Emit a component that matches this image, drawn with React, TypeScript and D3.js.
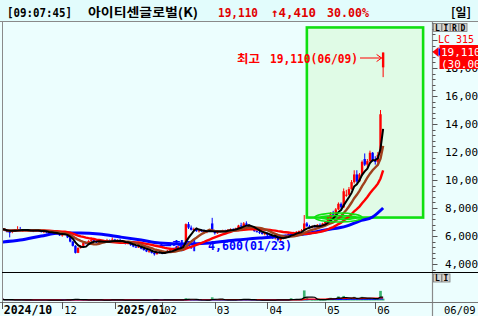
import React, { useMemo } from "react";
import * as d3 from "d3";

// ---------- data ----------
const START = "2024-10-30";
const END = "2025-06-09";
const HOLIDAYS = [
  "2024-12-25", "2024-12-31", "2025-01-01", "2025-01-27", "2025-01-28", "2025-01-29",
  "2025-01-30", "2025-03-03", "2025-05-01", "2025-05-05", "2025-05-06", "2025-06-03", "2025-06-06",
];

const OPEN = [
  6600, 6500, 6420, 6300, 6280, 6400, 6450, 6500, 6400, 6420, 6380, 6430, 6380, 6350, 6420, 6360, 6300, 6350, 6250, 6200, 6250, 6150, 6200,
  6050, 6100, 6150, 5900, 5600, 5300, 4800, 5150, 5300, 5500, 5450, 5650, 5700, 5650, 5550, 5600, 5550, 5600, 5700, 5550,
  5750, 5650, 5700, 5600, 5500, 5450, 5500, 5350, 5250, 5200, 5250, 5100, 5000, 4900, 4950, 4800, 4700, 4850,
  4800, 4750, 4850, 4950, 5050, 5000, 5150, 5250, 5200, 5500, 6850, 6600, 6450, 6500, 6350, 6400, 6350, 6300, 6350, 6900,
  6350, 6200, 6300, 6350, 6400, 6350, 6450, 6500, 6450, 6550, 6750, 6700, 6900, 6800, 6650, 6500, 6350, 6300, 6250, 6150,
  6200, 6050, 5950, 5850, 5950, 5700, 5900, 5850, 6050, 6150, 6200, 6150, 6300, 6350, 6400, 6900, 6700, 6600, 6700, 6650, 6800, 6750,
  6900, 7000, 7300, 7550, 7500, 7900, 8300, 8050, 8900, 8950, 9350, 9850, 10400, 9900, 10400, 11500, 11100, 11350, 11950,
  11400, 11300, 12000, 18050,
];
const HIGH = [
  6700, 6550, 6500, 6350, 6450, 6500, 6700, 6650, 6450, 6480, 6450, 6500, 6420, 6450, 6460, 6400, 6380, 6380, 6300, 6280, 6300, 6250, 6230,
  6150, 6200, 6150, 5950, 5650, 5350, 5200, 5350, 5550, 5600, 5700, 5900, 5850, 5700, 5650, 5700, 5650, 5800, 5750, 5900,
  5800, 5750, 5800, 5650, 5600, 5550, 5550, 5400, 5300, 5300, 5280, 5150, 5050, 4980, 4980, 4850, 4900, 4950,
  4850, 4900, 5000, 5100, 5150, 5200, 5300, 5350, 5500, 6900, 7000, 6750, 6600, 6550, 6450, 6500, 6450, 6400, 6450, 7300,
  6400, 6350, 6400, 6450, 6450, 6500, 6550, 6550, 6600, 6800, 6950, 7000, 7050, 6850, 6700, 6550, 6450, 6400, 6300, 6250,
  6250, 6100, 6000, 6000, 5950, 5950, 6000, 6100, 6200, 6250, 6300, 6350, 6400, 6500, 7500, 7000, 6800, 6750, 6800, 6850, 6900, 6950,
  7050, 7400, 7700, 7800, 8000, 8400, 8400, 9400, 9300, 9500, 10000, 10700, 10700, 10500, 11400, 11900, 11500, 12100, 12000,
  11700, 12000, 15000, 19110,
];
const LOW = [
  6450, 6350, 6250, 5900, 6200, 6300, 6400, 6350, 6300, 6350, 6300, 6350, 6280, 6300, 6330, 6250, 6200, 6200, 6100, 6150, 6100, 6100, 6000,
  5950, 6050, 5850, 5550, 5250, 4750, 4780, 5100, 5250, 5400, 5400, 5550, 5600, 5500, 5450, 5500, 5500, 5550, 5500, 5500,
  5600, 5600, 5550, 5450, 5400, 5400, 5300, 5200, 5150, 5150, 5050, 4950, 4850, 4800, 4750, 4600, 4680, 4750,
  4700, 4720, 4800, 4900, 4950, 4980, 5100, 5150, 5180, 5450, 6500, 6400, 6300, 6300, 6250, 6300, 6250, 6200, 6300, 6300,
  6100, 6150, 6250, 6300, 6300, 6300, 6400, 6400, 6400, 6500, 6650, 6650, 6750, 6600, 6450, 6300, 6250, 6150, 6100, 6050,
  6000, 5900, 5800, 5750, 5600, 5650, 5800, 5800, 6000, 6050, 6100, 6100, 6250, 6300, 6350, 6650, 6550, 6550, 6600, 6600, 6700, 6700,
  6800, 6950, 7200, 7400, 7450, 7850, 7950, 8000, 8800, 8900, 9300, 9750, 9800, 9850, 10300, 11000, 10900, 11250, 11300,
  11100, 11200, 11900, 17350,
];
const CLOSE = [
  6500, 6420, 6300, 6280, 6400, 6450, 6500, 6400, 6420, 6380, 6430, 6380, 6350, 6420, 6360, 6300, 6350, 6250, 6200, 6250, 6150, 6200, 6050,
  6100, 6150, 5900, 5600, 5300, 4800, 5150, 5300, 5500, 5450, 5650, 5700, 5650, 5550, 5600, 5550, 5600, 5700, 5550, 5750,
  5650, 5700, 5600, 5500, 5450, 5500, 5350, 5250, 5200, 5250, 5100, 5000, 4900, 4950, 4800, 4700, 4850, 4800,
  4750, 4850, 4950, 5050, 5000, 5150, 5250, 5200, 5450, 6850, 6600, 6450, 6500, 6350, 6400, 6350, 6300, 6350, 6400, 6350,
  6200, 6300, 6350, 6400, 6350, 6450, 6500, 6450, 6550, 6750, 6700, 6900, 6800, 6650, 6500, 6350, 6300, 6250, 6150, 6200,
  6050, 5950, 5850, 5950, 5700, 5900, 5850, 6050, 6150, 6200, 6150, 6300, 6350, 6400, 6900, 6700, 6600, 6700, 6650, 6800, 6750, 6900,
  7000, 7300, 7550, 7500, 7900, 8300, 8050, 9200, 8950, 9350, 9850, 10400, 9900, 10400, 11300, 11100, 11350, 11950, 11400,
  11300, 11800, 14700, 19110,
];
const VOLUME = [
  1200, 900, 800, 700, 800, 600, 700, 900, 600, 500, 600, 500, 500, 600, 500, 500, 600, 500, 400, 500, 500, 400, 600,
  500, 600, 1200, 1000, 1300, 1500, 900, 800, 700, 600, 700, 800, 600, 500, 500, 500, 400, 600, 500, 1500,
  600, 500, 500, 500, 400, 400, 500, 600, 500, 400, 500, 500, 600, 500, 700, 600, 500, 500,
  400, 1500, 600, 700, 500, 600, 700, 600, 900, 2500, 1800, 900, 700, 600, 500, 500, 400, 500, 600, 3500,
  1500, 800, 600, 600, 500, 600, 700, 600, 800, 1500, 1300, 1600, 900, 700, 600, 500, 500, 400, 400, 400,
  400, 500, 600, 500, 900, 500, 500, 700, 800, 2500, 900, 900, 1200, 1500, 11000, 3500, 1500, 1000, 900, 800, 900, 1000,
  1200, 2500, 3000, 1500, 2500, 4500, 1800, 5000, 1500, 2000, 2500, 4000, 2000, 2500, 4000, 2200, 1800, 2500, 1800,
  1500, 2500, 10500, 2000,
];
const MA60_AT = [0, 7, 15, 22, 30, 37, 45, 53, 60, 70, 79, 89, 98, 108, 115, 123, 131, 136, 141, 145];
const MA60_VALUE = [5570, 5710, 6000, 6210, 6210, 6140, 5930, 5710, 5500, 5430, 5500, 5710, 5860, 6000, 6140, 6430, 6710, 7070, 7360, 8000];
const PRICE_LABELS = [4000, 6000, 8000, 10000, 12000, 14000, 16000, 18000];

const TITLE_TIME = "[09:07:45]";
const TITLE_NAME = "아이티센글로벌(K)";
const LAST_PRICE = 19110;
const CHANGE = 4410;
const CHANGE_PCT = 30.0;
const HIGH_LABEL = { value: 19110, date: "06/09" };
const LOW_LABEL = { value: 4600, date: "01/23" };
const BOX = { from: 116, to: 160.2, top: 20900, bottom: 7320 };
const ELLIPSE = { from: 119, to: 137, lo: 7000, hi: 7640 };

// ---------- helpers ----------
const fmt = d3.format(",");
const MONO = "'DejaVu Sans Mono', 'Liberation Mono', monospace";
const KR = "'Noto Sans CJK KR', 'DejaVu Sans', sans-serif";

function movingAvg(arr: number[], n: number) {
  return arr.map((_, i) => d3.mean(arr.slice(Math.max(0, i - n + 1), i + 1)) as number);
}

function tradingDays() {
  const hol = new Set(HOLIDAYS);
  const f = d3.utcFormat("%Y-%m-%d");
  return d3
    .utcDay.range(new Date(START + "T00:00:00Z"), d3.utcDay.offset(new Date(END + "T00:00:00Z"), 1))
    .filter((d) => d.getUTCDay() !== 0 && d.getUTCDay() !== 6 && !hol.has(f(d)));
}

const W = 478;
const H = 316;

export default function App() {
  const dates = useMemo(tradingDays, []);
  const x = d3.scaleLinear().domain([0, 164]).range([1.8, 433.1]);
  const y = d3.scaleLinear().domain([3430, 21290]).range([272, 22]);
  const yv = d3.scaleLinear().domain([0, 30000]).range([300.5, 273]);

  const ma5 = movingAvg(CLOSE, 5);
  const ma10 = movingAvg(CLOSE, 10);
  const ma20 = movingAvg(CLOSE, 20);
  const vma5 = movingAvg(VOLUME, 5);
  const vma20 = movingAvg(VOLUME, 20);
  const vma60 = movingAvg(VOLUME, 60);

  const line = d3.line<number>().x((_, i) => x(i)).y((v) => y(v));
  const vline = d3.line<number>().x((_, i) => x(i)).y((v) => yv(v));
  const ma60Line = d3
    .line<number>()
    .x((_, k) => x(MA60_AT[k]))
    .y((v) => y(v))
    .curve(d3.curveMonotoneX);

  // month ticks
  const ticks: { i: number; label: string; bold: boolean }[] = [];
  let prevEnd = -Infinity;
  dates.forEach((d, i) => {
    if (i === 0 || d.getUTCMonth() !== dates[i - 1].getUTCMonth()) {
      const full = i === 0 || d.getUTCMonth() === 0;
      const label = full ? d3.utcFormat("%Y/%m")(d) : d3.utcFormat("%m")(d);
      const px = x(i);
      if (px >= prevEnd) {
        ticks.push({ i, label, bold: full });
        prevEnd = px + label.length * 6.6;
      }
    }
  });

  const minorTicks = d3.range(3600, 21201, 400);
  const lastIdx = CLOSE.length - 1;
  const hiIdx = CLOSE.length - 1;
  const loIdx = LOW.indexOf(LOW_LABEL.value);
  const loY = y(LOW_LABEL.value) - 6;

  const btn = (bx: number, by: number, ch: string, key: string) => (
    <g key={key}>
      <rect x={bx} y={by} width={8} height={8} fill="#d6d3ce" stroke="#7b7b7b" strokeWidth={0.8} />
      <text x={bx + 4} y={by + 7} fontSize={8} fontWeight="bold" textAnchor="middle" fontFamily={MONO} fill="#000">
        {ch}
      </text>
    </g>
  );

  return (
    <svg width={W} height={H} style={{ position: "absolute", left: 0, top: 0, display: "block" }}>
      <defs>
        <clipPath id="pricePanel">
          <rect x={3} y={22} width={429} height={250} />
        </clipPath>
        <clipPath id="volPanel">
          <rect x={3} y={273} width={429} height={29} />
        </clipPath>
      </defs>
      {/* backgrounds */}
      <rect x={0} y={0} width={W} height={H} fill="#ecfefe" />
      <rect x={0} y={0} width={W} height={21.5} fill="#e2fcfc" />
      <line x1={0} x2={W} y1={21.5} y2={21.5} stroke="#8a8a8a" />

      {/* header */}
      <text x={7} y={17} fontFamily={MONO} fontWeight="bold" fontSize={12} textLength={65} lengthAdjust="spacingAndGlyphs" fill="#000">
        {TITLE_TIME}
      </text>
      <text x={88} y={17} fontFamily={KR} fontWeight="bold" fontSize={12.5} textLength={110} lengthAdjust="spacingAndGlyphs" fill="#000">
        {TITLE_NAME}
      </text>
      <text x={218} y={17} fontFamily={MONO} fontWeight="bold" fontSize={12} textLength={40} lengthAdjust="spacingAndGlyphs" fill="#e00000">
        {fmt(LAST_PRICE)}
      </text>
      <text x={271} y={17} fontFamily={MONO} fontWeight="bold" fontSize={12} textLength={45} lengthAdjust="spacingAndGlyphs" fill="#e00000">
        {"↑" + fmt(CHANGE)}
      </text>
      <text x={327} y={17} fontFamily={MONO} fontWeight="bold" fontSize={12} textLength={42} lengthAdjust="spacingAndGlyphs" fill="#e00000">
        {CHANGE_PCT.toFixed(2) + "%"}
      </text>
      <text x={451} y={17} fontFamily={KR} fontWeight="bold" fontSize={12} textLength={20} lengthAdjust="spacingAndGlyphs" fill="#000">
        [일]
      </text>

      {/* frame */}
      <line x1={2.5} x2={2.5} y1={22} y2={302} stroke="#8a8a8a" strokeWidth={1} />
      <line x1={432.5} x2={432.5} y1={22} y2={H} stroke="#8a8a8a" strokeWidth={1.2} />
      <line x1={2} x2={W} y1={272.5} y2={272.5} stroke="#000" strokeWidth={1} />
      <line x1={0} x2={W} y1={302.5} y2={302.5} stroke="#777" strokeWidth={1} />

      {/* price panel */}
      <g clipPath="url(#pricePanel)">
        <rect
          x={x(BOX.from)}
          y={y(BOX.top)}
          width={x(BOX.to) - x(BOX.from)}
          height={y(BOX.bottom) - y(BOX.top)}
          fill="#e0fbe6"
          stroke="#10e010"
          strokeWidth={2.6}
        />
        <text x={x(loIdx) + 4} y={loY} fontFamily={KR} fontWeight="bold" fontSize={11.5} fill="#0000ff" textLength={38} lengthAdjust="spacingAndGlyphs">
          ←최저
        </text>
        <text x={208} y={loY} fontFamily={MONO} fontWeight="bold" fontSize={11.5} fill="#0000ff" textLength={84} lengthAdjust="spacingAndGlyphs">
          {fmt(LOW_LABEL.value) + "(" + LOW_LABEL.date + ")"}
        </text>
        {CLOSE.map((c, i) => {
          const o = OPEN[i];
          const up = c >= o;
          const col = up ? "#ff0000" : "#0000ff";
          const top = y(Math.max(o, c));
          const bot = y(Math.min(o, c));
          return (
            <g key={i}>
              <line x1={x(i)} x2={x(i)} y1={y(HIGH[i])} y2={y(LOW[i])} stroke={col} strokeWidth={1} />
              <rect x={x(i) - 1.2} y={top} width={2.4} height={Math.max(1, bot - top)} fill={col} />
            </g>
          );
        })}
        <path d={ma60Line(MA60_VALUE) || ""} fill="none" stroke="#0000ff" strokeWidth={3} />
        <path d={line(ma20) || ""} fill="none" stroke="#ff0000" strokeWidth={2.4} />
        <path d={line(ma10) || ""} fill="none" stroke="#a0401c" strokeWidth={2.4} />
        <path d={line(ma5) || ""} fill="none" stroke="#000" strokeWidth={2} />
        <ellipse
          cx={(x(ELLIPSE.from) + x(ELLIPSE.to)) / 2}
          cy={(y(ELLIPSE.lo) + y(ELLIPSE.hi)) / 2}
          rx={(x(ELLIPSE.to) - x(ELLIPSE.from)) / 2}
          ry={(y(ELLIPSE.lo) - y(ELLIPSE.hi)) / 2}
          fill="none"
          stroke="#10e010"
          strokeWidth={1.6}
        />
        <ellipse
          cx={(x(ELLIPSE.from) + x(ELLIPSE.to)) / 2}
          cy={(y(ELLIPSE.lo) + y(ELLIPSE.hi)) / 2}
          rx={((x(ELLIPSE.to) - x(ELLIPSE.from)) / 2) * 0.76}
          ry={((y(ELLIPSE.lo) - y(ELLIPSE.hi)) / 2) * 0.45}
          fill="none"
          stroke="#10e010"
          strokeWidth={1.6}
        />
        {/* highest label */}
        <text x={237} y={y(HIGH_LABEL.value) + 10} fontFamily={KR} fontWeight="bold" fontSize={11.5} fill="#ff0000" textLength={23} lengthAdjust="spacingAndGlyphs">
          최고
        </text>
        <text x={270} y={y(HIGH_LABEL.value) + 10} fontFamily={MONO} fontWeight="bold" fontSize={11.5} fill="#ff0000" textLength={88} lengthAdjust="spacingAndGlyphs">
          {fmt(HIGH_LABEL.value) + "(" + HIGH_LABEL.date + ")"}
        </text>
        <line x1={360} x2={x(hiIdx) - 1.5} y1={y(HIGH_LABEL.value) + 5.5} y2={y(HIGH_LABEL.value) + 5.5} stroke="#ff0000" strokeWidth={1} />
        <path
          d={`M${x(hiIdx) - 1.5},${y(HIGH_LABEL.value) + 5.5} l-5,-3.5 M${x(hiIdx) - 1.5},${y(HIGH_LABEL.value) + 5.5} l-5,3.5`}
          stroke="#ff0000"
          strokeWidth={1}
          fill="none"
        />
      </g>

      {/* volume panel */}
      <g clipPath="url(#volPanel)">
        {VOLUME.map((v, i) => (
          <rect key={i} x={x(i) - 1.3} y={Math.min(yv(v), 299.5)} width={2.63} height={Math.max(1.2, 300.5 - yv(v))} fill="#3cb371" />
        ))}
        <path d={vline(vma60) || ""} fill="none" stroke="#0000ff" strokeWidth={1.2} />
        <path d={vline(vma20) || ""} fill="none" stroke="#ff0000" strokeWidth={1.2} />
        <path d={vline(vma5) || ""} fill="none" stroke="#000" strokeWidth={1.2} />
      </g>

      {/* right price axis */}
      {minorTicks.map((v) => (
        <line key={v} x1={432.5} x2={v % 2000 === 0 ? 437.5 : 435.5} y1={Math.round(y(v)) + 0.5} y2={Math.round(y(v)) + 0.5} stroke="#555" />
      ))}
      {PRICE_LABELS.map((v) => (
        <text key={v} x={445} y={y(v) + 4} fontFamily={MONO} fontSize={11} fill="#000">
          {fmt(v)}
        </text>
      ))}
      {["L", "I", "R", "D"].map((c, k) => btn(433.5 + k * 8.5, 23.5, c, "b" + k))}
      {["L", "I"].map((c, k) => btn(433.5 + k * 8.5, 274, c, "v" + k))}
      <text x={438} y={43} fontFamily={MONO} fontSize={10} fill="#ff0000">
        LC 315
      </text>
      <rect x={439.5} y={y(LAST_PRICE) - 7.5} width={40} height={24} fill="#ff0000" />
      <path d={`M432.5,${y(LAST_PRICE) - 0.5} L438.5,${y(LAST_PRICE) - 5.5} L438.5,${y(LAST_PRICE) + 4.5} Z`} fill="#ff0000" />
      <rect x={438.5} y={y(LAST_PRICE) - 4} width={1.6} height={7} fill="#0000ff" />
      <text x={441} y={y(LAST_PRICE) + 3.5} fontFamily={MONO} fontSize={11} fill="#fff">
        {fmt(LAST_PRICE)}
      </text>
      <text x={441} y={y(LAST_PRICE) + 15} fontFamily={MONO} fontSize={11} fill="#fff">
        {"(" + CHANGE_PCT.toFixed(2) + "%)"}
      </text>

      {/* date axis */}
      {ticks.map((t) => (
        <g key={t.i}>
          <line x1={Math.round(x(t.i)) + 0.5} x2={Math.round(x(t.i)) + 0.5} y1={302} y2={309} stroke="#555" />
          <text
            x={x(t.i) + 2}
            y={314}
            fontFamily={MONO}
            fontSize={t.bold ? 11.5 : 10.5}
            fontWeight={t.bold ? "bold" : "normal"}
            fill="#000"
          >
            {t.label}
          </text>
        </g>
      ))}
      <text x={444} y={314} fontFamily={MONO} fontSize={10.5} fill="#000">
        {d3.utcFormat("%m/%d")(dates[lastIdx])}
      </text>
    </svg>
  );
}
